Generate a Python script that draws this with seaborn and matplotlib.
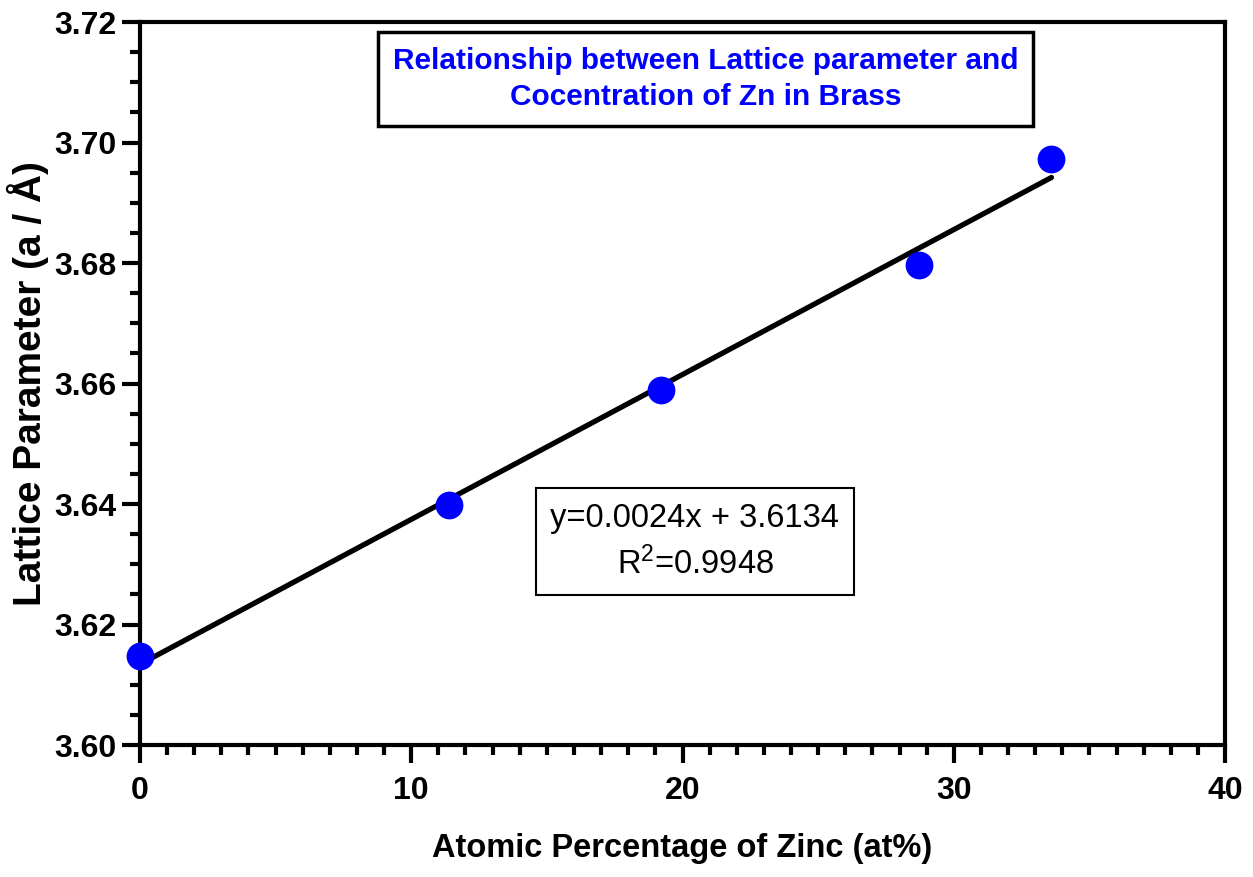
import numpy as np
import pandas as pd
import matplotlib
matplotlib.use("Agg")
import matplotlib.pyplot as plt
from matplotlib.ticker import MultipleLocator, FormatStrFormatter
import seaborn as sns

# ── Data ──────────────────────────────────────────────────────────────────────
zn_at_pct = [0.0, 11.4, 19.2, 28.7, 33.6]
lattice_a = [3.6147, 3.6399, 3.6589, 3.6796, 3.6973]
fit_label = "y=0.0024x + 3.6134\nR$^{2}$=0.9948"
title_txt = "Relationship between Lattice parameter and\nCocentration of Zn in Brass"

df = pd.DataFrame({"x": zn_at_pct, "y": lattice_a})

# ── Style ─────────────────────────────────────────────────────────────────────
sns.set_theme(style="ticks")
plt.rcParams["font.family"] = ["Liberation Sans", "DejaVu Sans"]
plt.rcParams["text.color"] = "black"
plt.rcParams["axes.labelcolor"] = "black"
plt.rcParams["xtick.color"] = "black"
plt.rcParams["ytick.color"] = "black"
plt.rcParams["mathtext.fontset"] = "custom"
plt.rcParams["mathtext.rm"] = "Liberation Sans"
plt.rcParams["mathtext.it"] = "Liberation Sans"

fig = plt.figure(figsize=(12.53, 8.77), dpi=100, facecolor="white")
ax = fig.add_axes([0.1117, 0.1505, 0.866, 0.8244])

sns.regplot(data=df, x="x", y="y", ax=ax, ci=None, truncate=True,
            scatter_kws={"s": 400, "color": "#0000ff", "alpha": 1,
                         "clip_on": False, "zorder": 4, "linewidths": 0},
            line_kws={"color": "black", "linewidth": 3.8, "zorder": 3})

ax.set_xlim(0, 40)
ax.set_ylim(3.60, 3.72)
ax.xaxis.set_major_locator(MultipleLocator(10))
ax.xaxis.set_minor_locator(MultipleLocator(1))
ax.yaxis.set_major_locator(MultipleLocator(0.02))
ax.yaxis.set_minor_locator(MultipleLocator(0.005))
ax.yaxis.set_major_formatter(FormatStrFormatter("%.2f"))

for s in ax.spines.values():
    s.set_linewidth(3)
    s.set_color("black")

ax.tick_params(which="major", length=13, width=3, labelsize=23, pad=4,
               colors="black")
ax.tick_params(which="minor", length=7, width=3, colors="black")
ax.tick_params(axis="x", which="major", pad=9)
for lbl in ax.get_xticklabels() + ax.get_yticklabels():
    lbl.set_fontweight("bold")

ax.set_xlabel("Atomic Percentage of Zinc (at%)", fontsize=23.5,
              fontweight="bold", labelpad=20)
ax.set_ylabel("Lattice Parameter (a / Å)", fontsize=28,
              fontweight="bold", labelpad=4)

# title box
ax.text(0.521, 0.921, title_txt, transform=ax.transAxes, ha="center",
        va="center", color="#0000ff", fontsize=21.5, fontweight="bold",
        linespacing=1.35,
        bbox=dict(boxstyle="square,pad=0.5", facecolor="white",
                  edgecolor="black", linewidth=2.5))

# equation box
ax.text(0.5115, 0.281, fit_label, transform=ax.transAxes, ha="center",
        va="center", color="black", fontsize=23.5,
        linespacing=1.45,
        bbox=dict(boxstyle="square,pad=0.45", facecolor="white",
                  edgecolor="black", linewidth=1.5))

fig.savefig("out.png", dpi=100, facecolor="white")
